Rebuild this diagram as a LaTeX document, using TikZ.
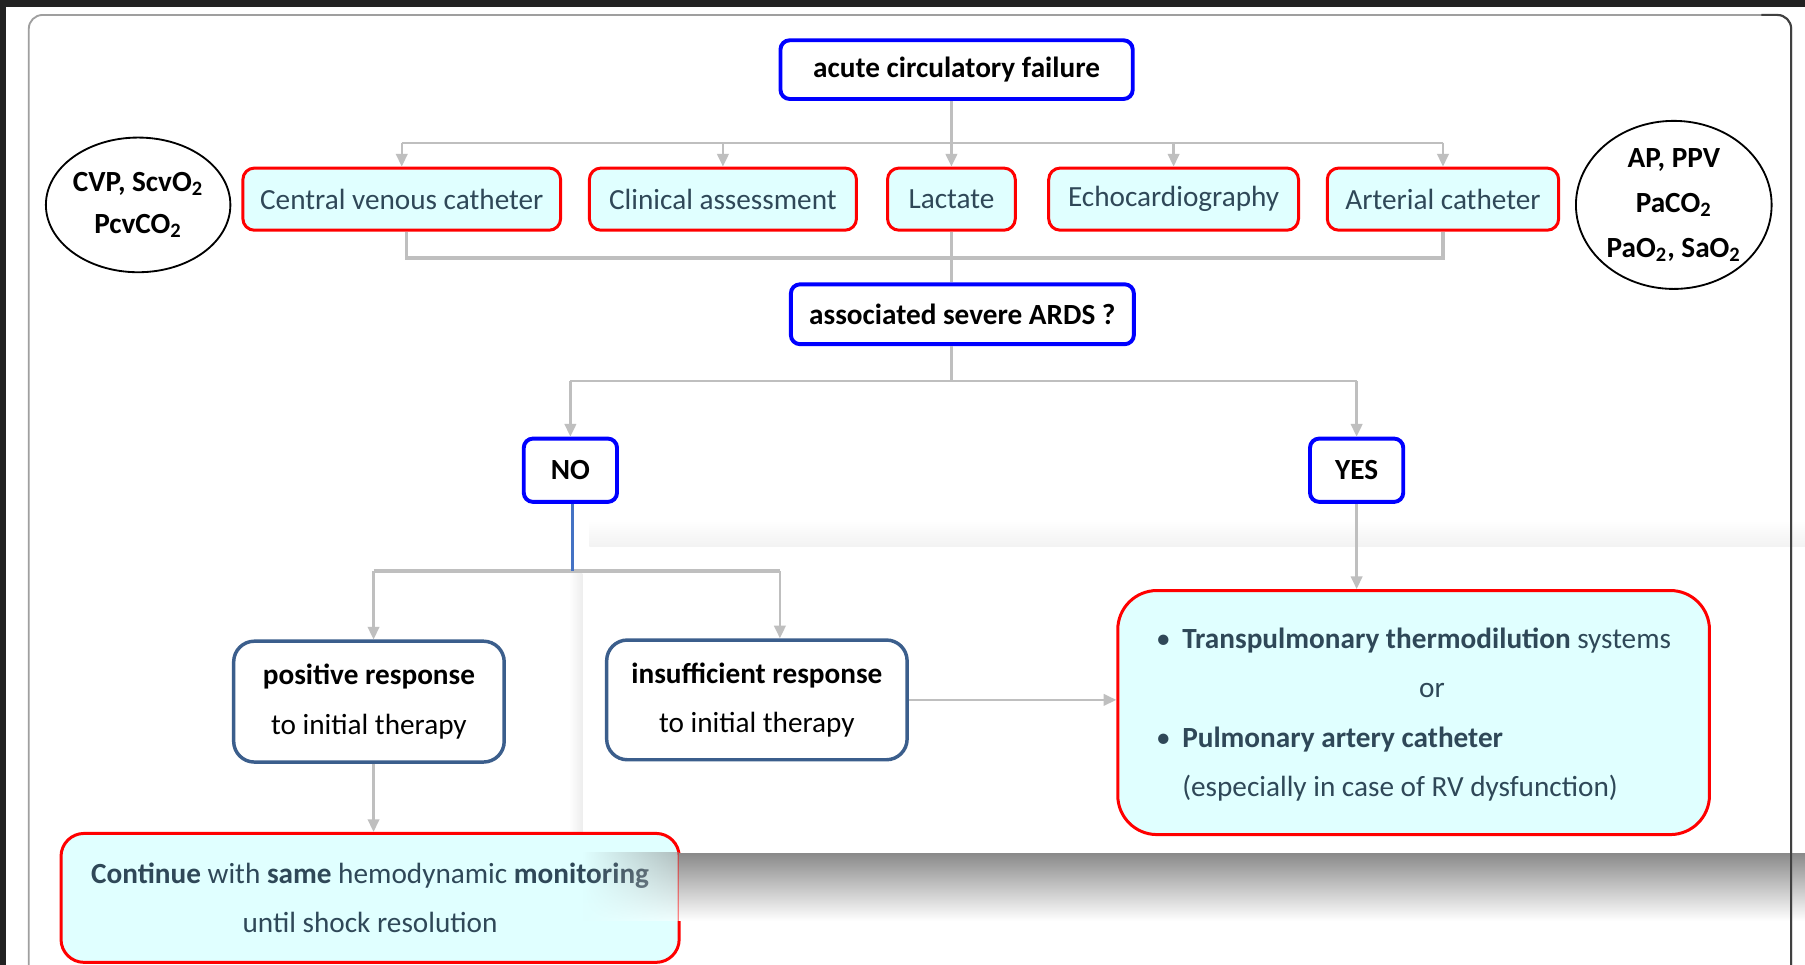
\documentclass[tikz,border=0pt]{standalone}
\usepackage{fontspec}
\setmainfont{Carlito}
\usetikzlibrary{arrows.meta,shapes.geometric,fadings}
\definecolor{cgray}{RGB}{191,191,191}
\definecolor{slate}{RGB}{47,72,88}
\definecolor{respblue}{RGB}{59,94,140}
\definecolor{stemblue}{RGB}{68,114,196}
\definecolor{lcyan}{RGB}{224,255,255}
\definecolor{darkbg}{RGB}{34,34,34}
\tikzfading[name=fadeleft, left color=transparent!100, right color=transparent!45]
\begin{document}
\begin{tikzpicture}[x=0.5pt,y=-0.5pt,
 every node/.style={font=\fontsize{12.7}{15.5}\selectfont},
 bluebox/.style={draw=blue, line width=1.7pt, rounded corners=4pt, fill=white, inner sep=0pt, font=\fontsize{12.7}{15.5}\selectfont\bfseries},
 redbox/.style={draw=red, line width=1.3pt, rounded corners=5pt, fill=lcyan, inner sep=0pt, text=slate},
 respbox/.style={draw=respblue, line width=1.5pt, rounded corners=9pt, fill=white, inner sep=0pt, align=center, font=\fontsize{12.7}{21.5}\selectfont},
 oval/.style={ellipse, draw=black, line width=0.8pt, inner sep=0pt, align=center, font=\bfseries\fontsize{12.7}{18}\selectfont},
 conn/.style={draw=cgray, line width=1pt},
 bus/.style={draw=cgray, line width=1.6pt},
 stem/.style={draw=stemblue, line width=1.3pt},
 arr/.style={draw=cgray, line width=1pt, -{Triangle[length=5.5pt,width=5pt]}},
]
\useasboundingbox (0,0) rectangle (1568,838);
\begin{scope}
\clip (0,0) rectangle (1568,838);
\fill[white] (0,0) rectangle (1568,838);
\fill[darkbg] (0,0) rectangle (1568,6);
\fill[darkbg] (0,0) rectangle (5,838);

% panel artefacts (behind)
\shade[top color=white, bottom color=black!5] (512,452) rectangle (1568,475);
\shade[left color=white, right color=black!7] (494,498) rectangle (506,741);

% nodes
\node[bluebox, minimum width=153pt, minimum height=25.5pt] (acute) at (831,60.5) {acute circulatory failure};
\node[oval, minimum width=77.5pt, minimum height=58.5pt] (ovl) at (120,178) {CVP, ScvO\textsubscript{2}\\PcvCO\textsubscript{2}};
\node[redbox, minimum width=138pt, minimum height=27pt] (cvc) at (349,173) {Central venous catheter};
\node[redbox, minimum width=116pt, minimum height=27pt] (clin) at (628,173) {Clinical assessment};
\node[redbox, minimum width=55.5pt, minimum height=27pt] (lac) at (826.5,173) {Lactate};
\node[redbox, minimum width=108.5pt, minimum height=27pt] (echo) at (1019.5,173) {Echocardiography};
\node[redbox, minimum width=100.5pt, minimum height=27pt] (art) at (1253.5,173) {Arterial catheter};
\node[oval, minimum width=85pt, minimum height=73pt, font=\bfseries\fontsize{12.7}{19.5}\selectfont] (ovr) at (1454,178) {AP, PPV\\PaCO\textsubscript{2}\\PaO\textsubscript{2}, SaO\textsubscript{2}};
\node[bluebox, minimum width=149pt, minimum height=26pt] (ards) at (836,273) {associated severe ARDS ?};
\node[bluebox, minimum width=40.5pt, minimum height=27.5pt] (no) at (495.5,408.5) {NO};
\node[bluebox, minimum width=40.5pt, minimum height=27.5pt] (yes) at (1178.5,408.5) {YES};
\node[respbox, minimum width=117.5pt, minimum height=52.5pt] (pos) at (320.5,609.5) {\textbf{positive response}\\to initial therapy};
\node[respbox, minimum width=130.5pt, minimum height=52pt] (ins) at (657.5,608) {\textbf{insufficient response}\\to initial therapy};
\node[redbox, rounded corners=17pt, minimum width=257pt, minimum height=106pt] (res) at (1228,619)
 {\def\arraystretch{1.39}\begin{tabular}{@{}l@{\hspace{5pt}}l@{}}
 \textbullet & \textbf{Transpulmonary thermodilution} systems\\
 \multicolumn{2}{c}{\hspace{16pt}or}\\
 \textbullet & \textbf{Pulmonary artery catheter}\\
  & (especially in case of RV dysfunction)
 \end{tabular}};
\node[redbox, rounded corners=10pt, minimum width=268.5pt, minimum height=56pt, align=center, font=\fontsize{12.7}{21}\selectfont] (cont) at (321.5,780)
 {\textbf{Continue} with \textbf{same} hemodynamic \textbf{monitoring}\\until shock resolution};

% connectors
\coordinate (b1) at (0,124);
\coordinate (b2) at (0,224);
\coordinate (b3) at (0,331);
\coordinate (b4) at (0,496);
\draw[conn] (acute.south -| lac) -- (b1 -| lac);
\draw[conn] (b1 -| cvc) -- (b1 -| art);
\foreach \n in {cvc,clin,lac,echo,art} \draw[arr] (b1 -| \n) -- (\n.north);
\coordinate (cvcout) at ([xshift=2pt]cvc.south);
\draw[bus] (cvcout) |- (b2 -| art) -- (art.south);
\draw[conn] (lac.south) -- (lac |- ards.north);
\draw[conn] (ards.south -| lac) -- (b3 -| lac);
\draw[conn] (b3 -| no) -- (b3 -| yes);
\draw[arr] (b3 -| no) -- (no.north);
\draw[arr] (b3 -| yes) -- (yes.north);
\coordinate (pin) at ([xshift=2pt]pos.north);
\coordinate (iin) at ([xshift=10pt]ins.north);
\coordinate (nout) at ([xshift=1pt]no.south);
\draw[bus] (pin |- b4) -- (iin |- b4);
\draw[stem] (nout) -- (nout |- b4);
\draw[arr] (pin |- b4) -- (pin);
\draw[arr] (iin |- b4) -- (iin);
\coordinate (pout) at ([xshift=2pt]pos.south);
\draw[arr] (pout) -- (pout |- cont.north);
\draw[arr] (ins.east) -- (ins.east -| res.west);
\draw[arr] (yes.south) -- (yes.south |- res.north);

% shadow band of the overlaid panel
\shade[top color=black!46, bottom color=white] (590,741) rectangle (1568,800);
\shade[top color=black!46, bottom color=white, path fading=fadeleft] (506,741) rectangle (590,800);

% outer frame
\draw[gray!75, line width=0.8pt, rounded corners=6pt] (25,13) rectangle (1556,900);
\draw[black!75, line width=0.9pt, rounded corners=6pt] (1530,13) -- (1556,13) -- (1556,900);
\end{scope}
\end{tikzpicture}
\end{document}
